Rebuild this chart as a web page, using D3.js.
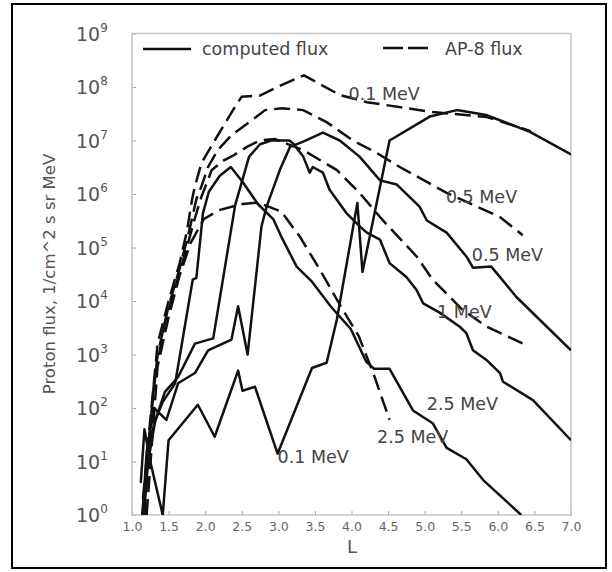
<!DOCTYPE html>
<html>
<head>
<meta charset="utf-8">
<script src="https://cdn.jsdelivr.net/npm/d3@7"></script>
<style>
  body { margin: 0; background: #fff; }
  text { font-family: "DejaVu Sans", Verdana, sans-serif; }
</style>
</head>
<body>
<div id="chart"></div>
<script>
// computed flux, [L, flux]
var comp01 = [[1.12, 4], [1.17, 40], [1.25, 10], [1.42, 1], [1.50, 25], [1.90, 115], [2.13, 29],
  [2.45, 500], [2.51, 210], [2.68, 250], [2.99, 14], [3.46, 560], [3.66, 700], [3.80, 4500],
  [4.08, 6.8e5], [4.15, 3.5e4], [4.52, 1.0e7], [5.07, 2.8e7], [5.44, 3.7e7], [5.84, 3.0e7],
  [6.44, 1.45e7], [7.0, 5.5e6]];
var comp05 = [[1.13, 0.5], [1.2, 15], [1.3, 100], [1.47, 60], [1.63, 290], [1.86, 450], [2.04, 1200],
  [2.36, 1900], [2.45, 8000], [2.58, 1000], [2.77, 2.5e5], [2.84, 5.8e5], [3.02, 2.8e6], [3.16, 7.6e6],
  [3.34, 9.5e6], [3.61, 1.4e7], [3.84, 1.0e7], [4.11, 5.0e6], [4.39, 1.8e6], [4.62, 1.5e6],
  [4.93, 5.8e5], [5.03, 3.2e5], [5.30, 1.9e5], [5.57, 6.8e4], [5.66, 4.2e4], [5.91, 4.4e4],
  [6.03, 2.8e4], [6.25, 1.2e4], [7.0, 1.2e3]];
var comp1 = [[1.15, 0.6], [1.22, 10], [1.32, 60], [1.45, 200], [1.63, 380], [1.86, 1600], [2.11, 2000],
  [2.41, 6.2e5], [2.6, 5.0e6], [2.75, 8.5e6], [2.9, 1.0e7], [3.15, 1.0e7], [3.20, 8.9e6], [3.34, 5.0e6],
  [3.43, 2.5e6], [3.47, 3.2e6], [3.61, 2.5e6], [3.70, 1.2e6], [3.93, 4.4e5], [4.11, 2.5e5],
  [4.21, 1.9e5], [4.39, 1.4e5], [4.52, 5.1e4], [4.75, 2.8e4], [4.89, 1.6e4], [4.98, 9000],
  [5.21, 6000], [5.48, 3300], [5.57, 2500], [5.66, 1200], [5.84, 800], [6.03, 450], [6.07, 310],
  [6.48, 140], [7.0, 25]];
var comp25 = [[1.12, 0.5], [1.2, 8], [1.3, 50], [1.42, 130], [1.59, 290], [1.83, 2.5e4], [1.88, 2.7e4],
  [1.97, 4.4e5], [2.05, 1.1e6], [2.2, 2.2e6], [2.35, 3.2e6], [2.51, 1.7e6], [2.72, 6.5e5],
  [2.93, 3.4e5], [3.04, 1.6e5], [3.25, 4.4e4], [3.46, 2.3e4], [3.72, 7800], [3.99, 3000],
  [4.20, 740], [4.31, 540], [4.52, 540], [4.84, 90], [5.11, 52], [5.30, 18], [5.57, 11],
  [5.80, 4.5], [6.32, 1]];

// AP-8 flux, [L, flux]
var ap01 = [[1.15, 2], [1.25, 60], [1.35, 1600], [1.5, 1.0e4], [1.65, 5.0e4], [1.75, 2.0e5],
  [1.82, 7.8e5], [1.86, 1.4e6], [1.95, 3.8e6], [2.13, 1.0e7], [2.41, 4.3e7], [2.50, 6.6e7],
  [2.75, 6.9e7], [3.05, 1.1e8], [3.35, 1.65e8], [3.84, 7.1e7], [4.21, 5.2e7], [5.11, 3.4e7],
  [5.85, 2.75e7], [6.45, 1.5e7]];
var ap05 = [[1.15, 1.5], [1.25, 50], [1.35, 1000], [1.5, 8000], [1.65, 4.0e4], [1.78, 2.0e5],
  [1.88, 8.0e5], [1.95, 1.4e6], [2.04, 3.2e6], [2.17, 6.6e6], [2.36, 1.26e7], [2.64, 2.4e7],
  [2.82, 3.7e7], [3.05, 4.0e7], [3.34, 3.7e7], [3.66, 2.2e7], [4.02, 1.0e7], [4.34, 5.9e6],
  [4.66, 3.2e6], [4.93, 2.0e6], [5.30, 1.05e6], [6.03, 3.7e5], [6.34, 1.7e5]];
var ap1 = [[1.17, 1], [1.3, 300], [1.45, 4000], [1.6, 2.0e4], [1.75, 1.0e5], [1.85, 3.2e5],
  [1.95, 9.0e5], [2.09, 2.8e6], [2.25, 4.2e6], [2.38, 5.2e6], [2.57, 7.6e6], [2.75, 1.0e7],
  [2.95, 1.07e7], [3.1, 8.9e6], [3.34, 6.6e6], [3.80, 2.8e6], [4.11, 1.05e6], [4.43, 3.2e5],
  [4.89, 6.8e4], [5.11, 2.5e4], [5.52, 6800], [5.85, 3300], [6.34, 1600]];
var ap25 = [[1.2, 1], [1.35, 600], [1.5, 5000], [1.65, 3.0e4], [1.8, 1.2e5], [1.98, 3.4e5],
  [2.19, 5.0e5], [2.51, 6.5e5], [2.72, 6.9e5], [3.04, 4.7e5], [3.30, 1.55e5], [3.57, 3.8e4],
  [3.83, 9000], [4.10, 2200], [4.31, 400], [4.52, 60]];

var xTicks = [1.0, 1.5, 2.0, 2.5, 3.0, 3.5, 4.0, 4.5, 5.0, 5.5, 6.0, 6.5, 7.0];
var yExponents = [0, 1, 2, 3, 4, 5, 6, 7, 8, 9];

// curve labels: text, L, flux at baseline
var curveLabels = [
  ["0.1 MeV", 3.96, 5.7e7], ["0.5 MeV", 5.29, 6.8e5], ["0.5 MeV", 5.645, 5.6e4],
  ["1 MeV", 5.17, 4800], ["2.5 MeV", 5.03, 91], ["2.5 MeV", 4.35, 22], ["0.1 MeV", 2.99, 9.3]
];

var margin = { top: 33.5, right: 41, bottom: 57, left: 132 },
    width = 612 - margin.left - margin.right,
    height = 572 - margin.top - margin.bottom;

var root = d3.select("#chart").append("svg")
    .attr("width", 612)
    .attr("height", 572);

// outer border
root.append("rect")
    .attr("x", 12).attr("y", 4).attr("width", 594).attr("height", 564)
    .attr("fill", "none").attr("stroke", "#000").attr("stroke-width", 2);

var svg = root.append("g")
    .attr("transform", "translate(" + margin.left + "," + margin.top + ")");

var x = d3.scaleLinear().domain([1, 7]).range([0, width]);
var y = d3.scaleLog().domain([1, 1e9]).range([height, 0]);

svg.append("clipPath").attr("id", "clip")
  .append("rect").attr("width", width).attr("height", height);

// X axis
var xAxis = svg.append("g")
    .attr("transform", "translate(0," + height + ")")
    .call(d3.axisBottom(x).tickValues(xTicks).tickSize(-4).tickPadding(7).tickFormat(d3.format(".1f")));
xAxis.select(".domain").remove();
xAxis.selectAll("line").attr("stroke", "#aaa");
xAxis.selectAll("text").attr("fill", "#666").style("font-size", "12.5px")
    .style("font-family", "'DejaVu Sans', sans-serif");

// Y axis
var yAxis = svg.append("g")
    .call(d3.axisLeft(y).tickValues(yExponents.map(function (e) { return Math.pow(10, e); }))
      .tickSize(-4).tickFormat(""));
yAxis.select(".domain").remove();
yAxis.selectAll("line").attr("stroke", "#aaa");

var yLab = svg.append("g").selectAll("text")
    .data(yExponents)
    .enter()
    .append("text")
    .attr("x", -56)
    .attr("y", function (d) { return y(Math.pow(10, d)) + 7; })
    .attr("fill", "#555");
yLab.append("tspan").style("font-size", "19px").text("10");
yLab.append("tspan").style("font-size", "12px").attr("dy", -9)
    .text(function (d) { return d; });

// frame
svg.append("rect")
    .attr("width", width).attr("height", height)
    .attr("fill", "none").attr("stroke", "#c4c4c4").attr("stroke-width", 1.5);

var line = d3.line()
    .x(function (d) { return x(d[0]); })
    .y(function (d) { return y(d[1]); });

var curves = svg.append("g").attr("clip-path", "url(#clip)");

[ap01, ap05, ap1, ap25].forEach(function (s) {
  curves.append("path").datum(s)
      .attr("d", line)
      .attr("fill", "none")
      .attr("stroke", "#111")
      .attr("stroke-width", 2.5)
      .attr("stroke-dasharray", "16,7");
});

[comp01, comp05, comp1, comp25].forEach(function (s) {
  curves.append("path").datum(s)
      .attr("d", line)
      .attr("fill", "none")
      .attr("stroke", "#111")
      .attr("stroke-width", 2.5)
      .attr("stroke-linejoin", "round");
});

// curve labels
svg.append("g").selectAll("text")
    .data(curveLabels)
    .enter()
    .append("text")
    .attr("x", function (d) { return x(d[1]); })
    .attr("y", function (d) { return y(d[2]); })
    .attr("fill", "#444")
    .style("font-size", "17.5px")
    .text(function (d) { return d[0]; });

// legend
root.append("line").attr("x1", 143).attr("x2", 191).attr("y1", 49).attr("y2", 49)
    .attr("stroke", "#111").attr("stroke-width", 2.5);
root.append("text").attr("x", 202).attr("y", 55).attr("fill", "#444")
    .style("font-size", "17.5px").text("computed flux");
root.append("line").attr("x1", 383).attr("x2", 428).attr("y1", 48).attr("y2", 48)
    .attr("stroke", "#111").attr("stroke-width", 2.5).attr("stroke-dasharray", "20,5");
root.append("text").attr("x", 445).attr("y", 55).attr("fill", "#444")
    .style("font-size", "17.5px").text("AP-8 flux");

// axis titles
root.append("text")
    .attr("x", 352).attr("y", 553)
    .attr("text-anchor", "middle")
    .attr("fill", "#555")
    .style("font-size", "18px")
    .text("L");

root.append("text")
    .attr("transform", "translate(55,274) rotate(-90)")
    .attr("text-anchor", "middle")
    .attr("fill", "#555")
    .style("font-size", "16.5px")
    .text("Proton flux, 1/cm^2 s sr MeV");
</script>
</body>
</html>
